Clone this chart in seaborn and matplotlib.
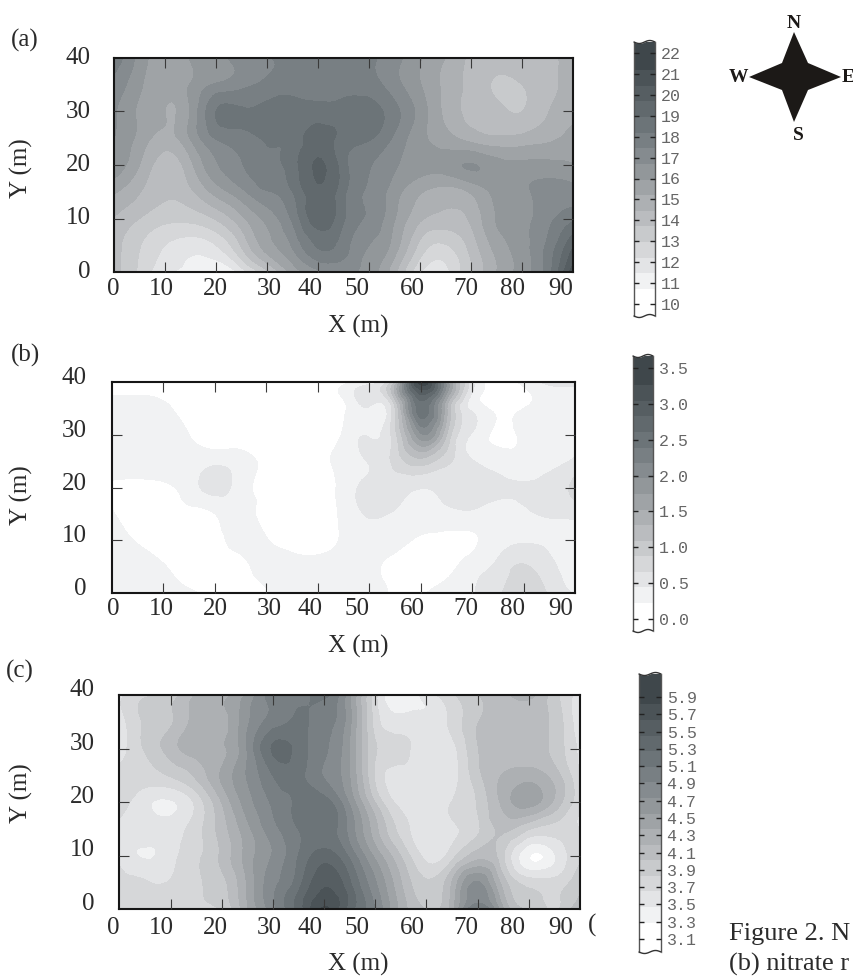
import numpy as np
import pandas as pd
import seaborn as sns
import matplotlib.pyplot as plt
import matplotlib.tri as mtri
from matplotlib.colors import ListedColormap, BoundaryNorm

# sample positions of the maps, metres
x_pos = [0, 5, 10, 15, 20, 25, 30, 35, 40, 45, 50, 55, 60, 65, 70, 75, 80, 85, 90]
y_pos = [40, 35, 30, 25, 20, 15, 10, 5, 0]

# (a) values, top row is y=40
map_a = [
    [18.0, 16.4, 15.5, 16.0, 16.5, 17.0, 17.4, 17.6, 17.7, 17.7, 17.6, 17.0, 16.0, 15.2, 14.3, 14.2, 14.2, 14.3, 14.7],
    [17.2, 16.1, 15.3, 16.0, 16.8, 17.2, 17.7, 17.9, 17.8, 17.9, 17.8, 17.0, 16.0, 15.0, 14.2, 13.6, 13.7, 14.2, 14.8],
    [16.8, 15.8, 15.2, 16.0, 18.2, 18.3, 18.4, 18.5, 18.5, 18.5, 18.6, 17.7, 16.4, 15.0, 14.3, 13.9, 13.7, 14.4, 15.0],
    [16.7, 15.7, 14.9, 16.0, 17.5, 17.9, 18.3, 18.5, 19.3, 18.7, 18.3, 17.3, 16.2, 15.5, 14.9, 14.6, 14.7, 15.0, 15.5],
    [16.5, 15.2, 14.1, 15.0, 16.6, 17.4, 18.0, 18.6, 19.8, 18.5, 17.5, 16.8, 16.3, 16.3, 16.75, 16.3, 16.2, 16.2, 16.0],
    [15.3, 14.5, 13.8, 14.3, 15.5, 16.5, 17.4, 18.2, 19.5, 18.4, 17.3, 16.3, 15.3, 14.9, 15.3, 16.2, 16.6, 16.9, 17.0],
    [14.4, 13.7, 13.2, 13.2, 13.8, 15.0, 16.2, 17.6, 19.4, 18.3, 17.3, 16.0, 14.6, 14.2, 14.6, 16.0, 16.5, 17.2, 18.0],
    [14.0, 13.0, 12.2, 11.8, 12.2, 13.8, 15.6, 16.8, 18.3, 17.8, 16.7, 15.6, 13.5, 12.9, 14.0, 15.5, 16.4, 17.6, 19.6],
    [14.0, 12.8, 11.6, 11.2, 10.6, 11.8, 13.5, 15.5, 16.5, 16.8, 16.4, 14.7, 12.3, 12.0, 13.7, 15.2, 16.3, 17.8, 21.0],
]

# (b) values
map_b = [
    [.15, .15, .15, .12, .1, .1, .1, .1, .1, .15, .3, 1.1, 3.4, 1.9, .5, .15, .28, .5, .5],
    [.28, .28, .25, .15, .1, .1, .1, .1, .1, .18, .42, .85, 2.5, 1.35, .38, .15, .22, .33, .33],
    [.33, .33, .32, .22, .1, .1, .1, .1, .1, .25, .42, .8, 1.9, 1.1, .42, .16, .28, .34, .38],
    [.33, .33, .33, .33, .38, .33, .15, .1, .15, .3, .46, .72, 1.0, .72, .45, .36, .33, .36, .48],
    [.18, .15, .18, .33, .52, .33, .15, .1, .1, .3, .52, .55, .45, .52, .55, .48, .46, .52, .72],
    [.24, .1, .1, .18, .22, .3, .15, .1, .1, .28, .46, .42, .38, .38, .4, .36, .4, .47, .5],
    [.3, .2, .1, .1, .15, .3, .24, .1, .1, .25, .33, .3, .18, .15, .18, .36, .42, .4, .36],
    [.38, .33, .24, .1, .1, .15, .33, .33, .3, .33, .28, .15, .1, .15, .33, .5, .68, .5, .36],
    [.38, .38, .33, .28, .1, .1, .2, .33, .38, .38, .36, .18, .2, .33, .42, .62, .85, .62, .42],
]

# (c) values
map_c = [
    [3.6, 3.8, 3.9, 4.2, 4.3, 4.6, 5.0, 5.0, 5.15, 4.6, 3.7, 3.28, 3.55, 3.8, 4.0, 4.15, 4.25, 3.9, 3.55],
    [3.55, 3.85, 3.98, 4.25, 4.3, 4.7, 5.0, 5.12, 5.0, 4.6, 3.75, 3.55, 3.52, 3.7, 4.0, 4.1, 4.1, 3.95, 3.5],
    [3.55, 3.85, 4.1, 4.3, 4.35, 4.75, 5.3, 5.2, 4.95, 4.55, 3.85, 3.68, 3.55, 3.58, 4.0, 4.1, 4.1, 3.95, 3.6],
    [3.75, 3.75, 3.85, 4.05, 4.4, 4.75, 5.1, 5.15, 4.9, 4.55, 3.8, 3.6, 3.55, 3.58, 3.95, 4.2, 4.28, 4.1, 3.65],
    [3.75, 3.52, 3.45, 3.7, 4.2, 4.65, 4.95, 5.15, 5.18, 4.7, 4.0, 3.58, 3.55, 3.65, 3.85, 4.25, 4.45, 4.15, 3.7],
    [3.6, 3.56, 3.56, 3.75, 4.1, 4.5, 4.85, 5.1, 5.2, 4.85, 4.25, 3.75, 3.55, 3.62, 3.8, 4.05, 3.85, 3.75, 3.65],
    [3.6, 3.45, 3.58, 3.78, 4.05, 4.45, 4.75, 5.1, 5.36, 5.05, 4.5, 4.0, 3.58, 3.75, 4.1, 3.85, 3.3, 3.45, 3.8],
    [3.7, 3.66, 3.66, 3.8, 3.95, 4.4, 4.85, 5.2, 5.6, 5.3, 4.75, 4.2, 3.85, 4.2, 4.75, 4.1, 3.75, 3.72, 3.95],
    [3.65, 3.65, 3.8, 3.8, 3.85, 4.35, 4.85, 5.35, 5.85, 5.35, 4.9, 4.3, 4.0, 4.3, 5.1, 4.4, 4.0, 3.8, 4.2],
]

# contour class limits of each legend
levels_a = [10.7, 11.45, 12.2, 12.95, 13.7, 14.45, 15.2, 15.95, 16.7, 17.45, 18.2, 18.95, 19.7, 20.45, 21.2]
levels_b = [.22, .44, .655, .87, 1.09, 1.31, 1.525, 1.74, 1.96, 2.18, 2.39, 2.61, 2.83, 3.05, 3.27]
levels_c = [3.285, 3.466, 3.647, 3.828, 4.009, 4.19, 4.371, 4.552, 4.733, 4.914, 5.095, 5.276, 5.457, 5.638, 5.819]

ticks_a = [22, 21, 20, 19, 18, 17, 16, 15, 14, 13, 12, 11, 10]
ticks_b = [3.5, 3.0, 2.5, 2.0, 1.5, 1.0, 0.5, 0.0]
ticks_c = [5.9, 5.7, 5.5, 5.3, 5.1, 4.9, 4.7, 4.5, 4.3, 4.1, 3.9, 3.7, 3.5, 3.3, 3.1]

x_ticks = [10, 20, 30, 40, 50, 60, 70, 80]
y_ticks = [10, 20, 30]
x_labels = ["0", "10", "20", "30", "40", "50", "60", "70", "80", "90"]
y_labels = ["0", "10", "20", "30", "40"]
# the printed labels do not sit under their ticks, pixel centres from the figure
x_label_px = [113, 161, 215, 269, 310, 357, 412, 466, 513, 561]

W, H = 854, 977
FS = 18
sns.set_style("ticks")
plt.rcParams["font.family"] = ["Liberation Serif", "DejaVu Serif"]
plt.rcParams["text.color"] = "#2b2b2b"

grey_list = ["#ffffff", "#f1f2f3", "#e3e4e6", "#d6d7d9", "#c8cacc", "#babcbf", "#adb0b3", "#9fa3a6",
             "#92979a", "#858b8f", "#787f83", "#6c7478", "#61696d", "#565e62", "#4b5357", "#3f474b"]
grey_map = ListedColormap(sns.color_palette(grey_list, 16))

fig = plt.figure(figsize=(W / 100, H / 100), dpi=100)


def px_axes(left, top, right, bottom):
    return fig.add_axes([left / W, 1 - bottom / H, (right - left) / W, (bottom - top) / H])


def px_text(x, y, s, **kw):
    kw.setdefault("ha", "center")
    kw.setdefault("va", "center")
    fig.text(x / W, 1 - y / H, s, **kw)


def draw_map(values, levels, box, label_right, up_px, xnum_y, xlab_y):
    left, top, right, bottom = box
    ax = px_axes(left, top, right, bottom)
    xx, yy = np.meshgrid(x_pos, y_pos)
    tri = mtri.Triangulation(xx.ravel(), yy.ravel())
    refiner = mtri.UniformTriRefiner(tri)
    fine_tri, fine_z = refiner.refine_field(np.array(values).ravel(), subdiv=3)
    norm = BoundaryNorm(levels, ncolors=16, extend="both")
    ax.tricontourf(fine_tri, fine_z, levels=levels, cmap=grey_map, norm=norm, extend="both")
    ax.set_xticks(x_ticks)
    ax.set_yticks(y_ticks)
    ax.set_xticklabels([])
    ax.set_yticklabels([])
    ax.set_xlim(0, 90)
    ax.set_ylim(0, 40)
    ax.set_axisbelow(False)
    for side in ax.spines.values():
        side.set_visible(True)
        side.set_linewidth(1.5)
        side.set_color("#161616")
    ax.tick_params(direction="in", length=7, width=0.8, color="#3a3a3a",
                   top=True, right=True, bottom=True, left=True)
    # numbers are placed by hand since they are offset from the ticks
    for p, s in zip(x_label_px, x_labels):
        px_text(p, xnum_y, s, fontsize=FS)
    per_m = (bottom - top) / 40
    for s in y_labels:
        px_text(label_right, bottom - float(s) * per_m - up_px, s, fontsize=FS, ha="right")
    px_text(358, xlab_y, "X (m)", fontsize=FS)
    return ax


def draw_bar(levels, ticks, box, first_px, last_px):
    left, top, right, bottom = box
    cax = px_axes(left, top, right, bottom)
    per_px = (ticks[0] - ticks[-1]) / (last_px - first_px)
    high = ticks[0] + (first_px - top) * per_px
    low = ticks[-1] - (bottom - last_px) * per_px
    col = np.linspace(high, low, bottom - top)
    norm = BoundaryNorm(levels, ncolors=16, extend="both")
    sns.heatmap(pd.DataFrame({"v": col}), ax=cax, cmap=grey_map, norm=norm, cbar=False,
                xticklabels=False, yticklabels=False)
    fmt = "%d" if levels is levels_a else "%.1f"
    cax.set_yticks([(high - t) / per_px for t in ticks], [fmt % t for t in ticks])
    cax.yaxis.tick_right()
    cax.set_axisbelow(False)
    cax.tick_params(axis="y", left=True, right=True, labelleft=False, labelright=True, direction="in",
                    length=3.5, width=1.0, color="#222222", pad=4, labelsize=12, labelcolor="#666666")
    for lab in cax.get_yticklabels():
        lab.set_family("Liberation Mono")
    for name in ["left", "right"]:
        cax.spines[name].set_visible(True)
        cax.spines[name].set_color("#555555")
        cax.spines[name].set_linewidth(1.0)
    for name in ["top", "bottom"]:
        cax.spines[name].set_visible(False)
    return cax


draw_map(map_a, levels_a, (114, 58, 573, 272), 91, 0, 289, 326)
draw_map(map_b, levels_b, (112, 382, 575, 593), 87, 4, 609, 646)
draw_map(map_c, levels_c, (119.5, 695, 580, 909), 95, 5, 928, 964)

draw_bar(levels_a, ticks_a, (634, 42, 655, 316), 53, 304)
draw_bar(levels_b, ticks_b, (633, 356, 653, 631), 368, 619)
draw_bar(levels_c, ticks_c, (639, 674, 661, 952), 697, 939)

px_text(21, 168, "Y (m)", rotation=90, fontsize=FS)
px_text(21, 495, "Y (m)", rotation=90, fontsize=FS)
px_text(21, 793, "Y (m)", rotation=90, fontsize=FS)
px_text(25, 40, "(a)", fontsize=FS)
px_text(26, 355, "(b)", fontsize=FS)
px_text(20, 671, "(c)", fontsize=FS)

# wavy ends of the legends, compass and the cut off caption in page pixels
page = fig.add_axes([0, 0, 1, 1], zorder=5)
page.set_xlim(0, W)
page.set_ylim(H, 0)
page.axis("off")
page.patch.set_alpha(0)
for l, r, t, b in [(634, 655, 42, 316), (633, 653, 356, 631), (639, 661, 674, 952)]:
    xs = np.linspace(l, r, 30)
    wave = 1.5 * np.sin((xs - l) / (r - l) * 2 * np.pi)
    page.fill_between(xs, t - 3, t + wave, color="white", lw=0)
    page.plot(xs, t + wave, color="#333333", lw=1)
    page.fill_between(xs, b + 3, b + wave, color="white", lw=0)
    page.plot(xs, b + wave, color="#333333", lw=1)

page.fill([794, 808, 841, 808, 794, 782, 749, 782], [32, 63, 77, 90, 122, 90, 77, 63], color="#1c1917", lw=0)
for tx, ty, s in [(794, 23, "N"), (798, 135, "S"), (738, 77, "W"), (848, 77, "E")]:
    page.text(tx, ty, s, ha="center", va="center", fontsize=14, fontweight="bold", color="#1c1917")

page.text(592, 925, "(", ha="center", va="center", fontsize=FS)
page.text(729, 934, "Figure 2. N", ha="left", va="center", fontsize=19)
page.text(729, 964, "(b) nitrate r", ha="left", va="center", fontsize=19)

fig.savefig("out.png", dpi=100)
